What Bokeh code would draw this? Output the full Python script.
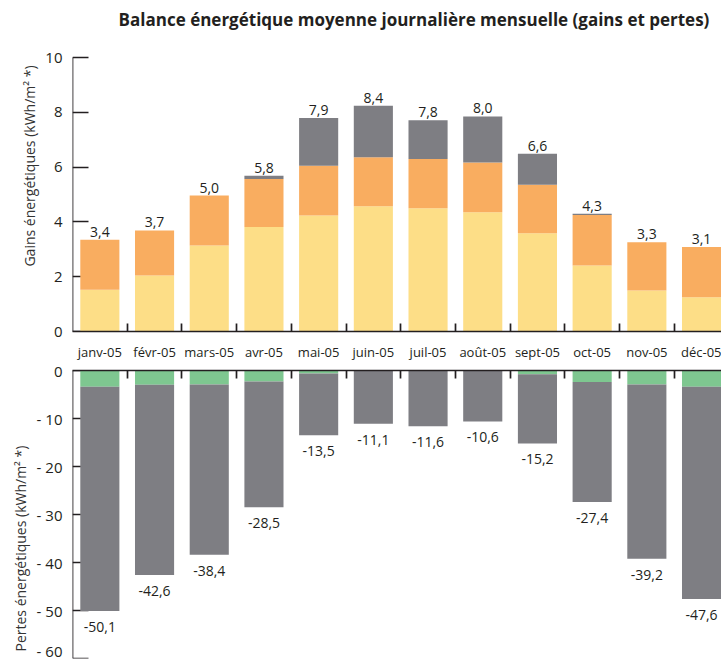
from bokeh.plotting import figure
from bokeh.layouts import column
from bokeh.models import ColumnDataSource, FixedTicker, LinearAxis, Range1d, Label, Title
from bokeh.embed import file_html
from bokeh.resources import INLINE
from bokeh.core.properties import value

# ---------------- data ----------------
months = ["janv-05", "févr-05", "mars-05", "avr-05", "mai-05", "juin-05",
          "juil-05", "août-05", "sept-05", "oct-05", "nov-05", "déc-05"]

# gains (stacked, kWh/m2)
gain_yellow = [1.52, 2.04, 3.14, 3.81, 4.23, 4.57, 4.50, 4.35, 3.59, 2.41, 1.50, 1.25]
gain_orange = [1.83, 1.65, 1.82, 1.76, 1.82, 1.79, 1.80, 1.82, 1.77, 1.84, 1.76, 1.83]
gain_grey = [0.00, 0.00, 0.00, 0.11, 1.74, 1.88, 1.41, 1.68, 1.13, 0.05, 0.00, 0.00]
gain_labels = ["3,4", "3,7", "5,0", "5,8", "7,9", "8,4", "7,8", "8,0", "6,6", "4,3", "3,3", "3,1"]

# losses (kWh/m2)
loss_green = [3.4, 2.95, 2.9, 2.3, 0.6, 0.0, 0.0, 0.0, 0.8, 2.4, 2.9, 3.4]
loss_total = [-50.1, -42.6, -38.4, -28.5, -13.5, -11.1, -11.6, -10.6, -15.2, -27.4, -39.2, -47.6]
loss_labels = ["-50,1", "-42,6", "-38,4", "-28,5", "-13,5", "-11,1",
               "-11,6", "-10,6", "-15,2", "-27,4", "-39,2", "-47,6"]

gain_ticks = [0, 2, 4, 6, 8, 10]
gain_tick_labels = ["0", "2", "4", "6", "8", "10"]
loss_ticks = [0, -10, -20, -30, -40, -50, -60]
loss_tick_labels = ["0", "- 10", "- 20", "- 30", "- 40", "- 50", "- 60"]

title_text = "Balance énergétique moyenne journalière mensuelle (gains et pertes)"
gain_axis_title = "Gains énergétiques (kWh/m² *)"
loss_axis_title = "Pertes énergétiques (kWh/m² *)"

# ---------------- styles ----------------
C_YELLOW = "#FDDE87"
C_ORANGE = "#F9AD60"
C_GREY = "#7E7E83"
C_GREEN = "#7EC790"
C_INK = "#231F20"
FONT = "Open Sans"

n = len(months)
xs = list(range(n))
bounds = [i + 0.5 for i in range(n - 1)]
cat_px = 54.7
W = 721
LEFT = 72
x_end = -0.5 + (W - LEFT) / cat_px
GAIN_PX = 27.4  # pixels per kWh in the upper panel


def add_y_axes(p, ticks, labels, axis_bounds, title, align, title_offset):
    # tick marks + axis line, drawn beneath the bars
    ya_ticks = LinearAxis(ticker=FixedTicker(ticks=ticks), bounds=axis_bounds,
                          major_label_overrides={t: "" for t in ticks},
                          major_tick_in=16, major_tick_out=0, major_label_standoff=0,
                          axis_line_width=1.7, axis_line_color=C_INK,
                          major_tick_line_width=1.7, major_tick_line_color=C_INK,
                          level="underlay")
    p.add_layout(ya_ticks, "left")
    # tick labels
    ya_lab = LinearAxis(ticker=FixedTicker(ticks=ticks), bounds=axis_bounds,
                        major_label_overrides={t: s for t, s in zip(ticks, labels)},
                        major_tick_in=0, major_tick_out=0, axis_line_color=None,
                        major_label_text_font=FONT, major_label_text_font_size="15px",
                        major_label_text_color=C_INK, major_label_standoff=10)
    p.add_layout(ya_lab, "left")
    p.add_layout(Title(text=title, align=align, offset=title_offset, vertical_align="top",
                       text_font=FONT, text_font_style="normal", text_font_size="14px",
                       text_color="#333333", standoff=4), "left")


# ---------------- top figure (gains) ----------------
H1 = 339
top_frame_h = H1 - 8
y1_end = top_frame_h / GAIN_PX

src1 = ColumnDataSource(dict(x=xs, a=gain_yellow, b=gain_orange, c=gain_grey))
p1 = figure(width=W, height=H1, x_range=Range1d(-0.5, x_end), y_range=Range1d(0, y1_end),
            x_axis_type=None, y_axis_type=None, output_backend="svg", toolbar_location=None,
            min_border_left=LEFT, min_border_right=0, min_border_top=0, min_border_bottom=8)
p1.outline_line_color = None
p1.grid.visible = False
p1.vbar_stack(["a", "b", "c"], x="x", width=0.715, color=[C_YELLOW, C_ORANGE, C_GREY],
              line_color=None, source=src1)

totals = [a + b + c for a, b, c in zip(gain_yellow, gain_orange, gain_grey)]
src1l = ColumnDataSource(dict(x=xs, y=totals, t=gain_labels))
p1.text(x="x", y="y", text="t", source=src1l, text_align="center", text_baseline="bottom",
        y_offset=-3, text_font=value(FONT), text_font_size="14px", text_color=C_INK)

xa1 = LinearAxis(ticker=FixedTicker(ticks=[], minor_ticks=bounds),
                 major_tick_in=0, major_tick_out=0, minor_tick_in=8, minor_tick_out=0,
                 axis_line_width=1.7, axis_line_color=C_INK,
                 minor_tick_line_width=1.7, minor_tick_line_color=C_INK,
                 major_label_standoff=0)
p1.add_layout(xa1, "below")
add_y_axes(p1, gain_ticks, gain_tick_labels, (0, 10), gain_axis_title, "center", 0)

p1.add_layout(Label(x=-0.5 + (413.5 - LEFT) / cat_px, y=(top_frame_h - 19) / GAIN_PX,
                    text=title_text, text_align="center", text_baseline="middle",
                    text_font=FONT, text_font_style="bold", text_font_size="17px",
                    text_color=C_INK))

# ---------------- bottom figure (losses) ----------------
H2 = 321
src2 = ColumnDataSource(dict(x=xs, g_top=[0] * n, g_bot=[-g for g in loss_green],
                             r_bot=loss_total, t=loss_labels))
p2 = figure(width=W, height=H2, x_range=p1.x_range, y_range=Range1d(-60, 0),
            x_axis_type=None, y_axis_type=None, output_backend="svg", toolbar_location=None,
            min_border_left=LEFT, min_border_right=0, min_border_top=30, min_border_bottom=2)
p2.outline_line_color = None
p2.grid.visible = False
p2.vbar(x="x", top="g_top", bottom="g_bot", width=0.715, color=C_GREEN, line_color=None, source=src2)
p2.vbar(x="x", top="g_bot", bottom="r_bot", width=0.715, color=C_GREY, line_color=None, source=src2)
p2.text(x="x", y="r_bot", text="t", source=src2, text_align="center", text_baseline="top",
        y_offset=11, text_font=value(FONT), text_font_size="14px", text_color=C_INK)

xa2 = LinearAxis(ticker=FixedTicker(ticks=xs, minor_ticks=bounds),
                 major_label_overrides={i: m for i, m in zip(xs, months)},
                 major_tick_in=0, major_tick_out=0, minor_tick_in=8, minor_tick_out=0,
                 axis_line_width=1.7, axis_line_color=C_INK,
                 minor_tick_line_width=1.7, minor_tick_line_color=C_INK,
                 major_label_text_font=FONT, major_label_text_font_size="13px",
                 major_label_text_color=C_INK, major_label_standoff=10)
p2.add_layout(xa2, "above")
add_y_axes(p2, loss_ticks, loss_tick_labels, (-60, 0), loss_axis_title, "left", 7)

layout = column(p1, p2, spacing=0)
open("out.html", "w").write(file_html(layout, INLINE))
